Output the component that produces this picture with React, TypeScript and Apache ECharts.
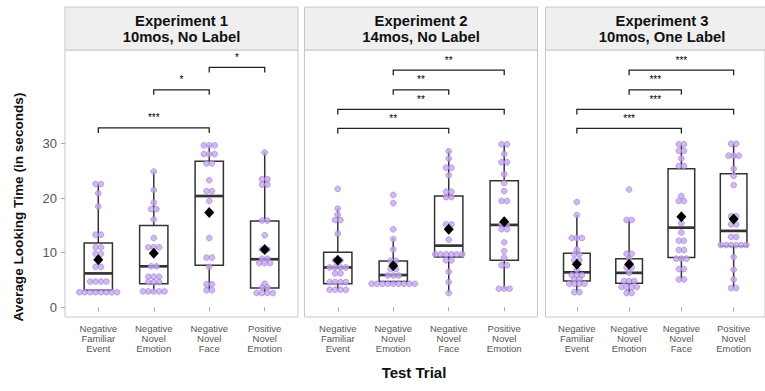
import React, { useEffect, useRef } from "react";
import * as echarts from "echarts";

const categories = [
  "Negative\nFamiliar\nEvent",
  "Negative\nNovel\nEmotion",
  "Negative\nNovel\nFace",
  "Positive\nNovel\nEmotion",
];
const panelTitles = [
  "Experiment 1\n10mos, No Label",
  "Experiment 2\n14mos, No Label",
  "Experiment 3\n10mos, One Label",
];
const yTicks = [0, 10, 20, 30];

// box stats per condition: [min, q1, median, q3, max]
const boxExp1 = [[2.7, 3.1, 6.2, 11.8, 22.6], [2.9, 4.3, 7.5, 15.0, 24.9], [3.0, 7.7, 20.4, 26.8, 29.7], [2.6, 3.5, 8.8, 15.8, 28.4]];
const boxExp2 = [[3.2, 4.3, 7.3, 10.1, 18.1], [4.3, 4.7, 5.9, 8.5, 12.7], [2.6, 9.2, 11.3, 20.4, 28.6], [3.4, 8.6, 15.1, 23.2, 29.9]];
const boxExp3 = [[2.75, 4.8, 6.4, 9.9, 16.9], [2.6, 4.4, 6.3, 8.9, 16.0], [5.1, 9.1, 14.6, 25.4, 29.9], [3.5, 11.2, 14.0, 24.5, 30.0]];

const meanExp1 = [8.7, 9.9, 17.4, 10.6];
const meanExp2 = [8.6, 7.6, 14.3, 15.7];
const meanExp3 = [7.9, 7.9, 16.6, 16.2];

// individual looking times
const exp1NegFamiliar = [22.6, 22.6, 20.9, 18.5, 13.3, 13.3, 11.0, 11.0, 9.8, 9.8, 7.4, 7.4, 4.7, 4.7, 4.7, 4.7, 2.75, 2.75, 2.75, 2.75, 2.75, 2.75, 2.75, 2.75];
const exp1NegEmotion = [24.9, 21.5, 19.2, 18.0, 18.0, 16.1, 12.7, 11.0, 11.0, 11.0, 7.5, 7.5, 5.6, 5.6, 5.6, 4.6, 4.6, 4.6, 2.9, 2.9, 2.9, 2.9, 2.9];
const exp1NegFace = [29.7, 29.7, 29.7, 28.1, 28.1, 28.1, 26.4, 26.4, 23.3, 21.3, 21.3, 19.5, 12.7, 9.1, 9.1, 7.4, 4.2, 4.2, 3.1, 3.1];
const exp1PosEmotion = [28.4, 23.5, 23.5, 22.5, 22.5, 15.9, 15.9, 13.2, 10.6, 10.6, 8.9, 8.9, 8.1, 8.1, 8.1, 4.3, 3.6, 3.6, 2.6, 2.6, 2.6, 2.6];

const exp2NegFamiliar = [21.7, 18.1, 17.0, 16.0, 16.0, 13.5, 8.6, 8.6, 7.3, 7.3, 7.3, 7.3, 6.2, 6.2, 4.6, 4.6, 4.6, 4.6, 3.2, 3.2, 3.2, 3.2];
const exp2NegEmotion = [20.6, 19.1, 14.3, 12.5, 10.6, 8.5, 8.5, 7.0, 7.0, 5.8, 5.8, 5.8, 4.3, 4.3, 4.3, 4.3, 4.3, 4.3, 4.3, 4.3, 4.3];
const exp2NegFace = [28.6, 27.3, 25.6, 25.6, 24.2, 21.2, 21.2, 20.2, 20.2, 15.2, 15.2, 12.4, 9.7, 9.7, 9.7, 9.7, 9.7, 9.7, 8.6, 8.6, 6.5, 4.6, 2.6];
const exp2PosEmotion = [29.9, 29.9, 28.1, 26.6, 26.6, 24.4, 22.8, 21.3, 19.5, 19.5, 15.2, 15.2, 14.3, 14.3, 11.9, 10.3, 9.1, 7.7, 7.7, 3.4, 3.4, 3.4];

const exp3NegFamiliar = [19.3, 16.9, 12.7, 12.7, 12.7, 10.6, 9.7, 9.7, 8.6, 8.6, 6.9, 5.9, 5.9, 5.9, 5.1, 5.1, 4.3, 4.3, 4.3, 4.3, 2.75, 2.75];
const exp3NegEmotion = [21.6, 16.0, 16.0, 9.8, 9.8, 8.9, 7.3, 7.3, 6.3, 4.8, 4.8, 4.8, 3.7, 3.7, 3.7, 3.7, 2.6, 2.6];
const exp3NegFace = [29.9, 29.9, 28.7, 28.7, 27.3, 25.9, 25.9, 20.4, 19.5, 19.5, 15.4, 13.7, 12.2, 12.2, 10.5, 10.5, 8.9, 8.9, 8.9, 7.0, 7.0, 5.1, 5.1];
const exp3PosEmotion = [30.0, 30.0, 27.8, 27.8, 27.8, 25.4, 24.1, 22.4, 16.7, 16.7, 15.2, 15.2, 12.9, 12.9, 11.4, 11.4, 11.4, 11.4, 11.4, 11.4, 9.2, 6.9, 5.1, 3.5, 3.5];

// significance brackets: [from category, to category, height]
const bracketsExp1 = [[3, 4, 44.0], [2, 3, 39.9], [1, 3, 32.9]];
const bracketLabelsExp1 = ["*", "*", "***"];
const bracketsExp2 = [[2, 4, 43.5], [2, 3, 39.9], [1, 4, 36.3], [1, 3, 32.8]];
const bracketLabelsExp2 = ["**", "**", "**", "**"];
const bracketsExp3 = [[2, 4, 43.5], [2, 3, 39.9], [1, 4, 36.3], [1, 3, 32.8]];
const bracketLabelsExp3 = ["***", "***", "***", "***"];

const panels = [
  { box: boxExp1, mean: meanExp1, points: [exp1NegFamiliar, exp1NegEmotion, exp1NegFace, exp1PosEmotion], brackets: bracketsExp1, labels: bracketLabelsExp1 },
  { box: boxExp2, mean: meanExp2, points: [exp2NegFamiliar, exp2NegEmotion, exp2NegFace, exp2PosEmotion], brackets: bracketsExp2, labels: bracketLabelsExp2 },
  { box: boxExp3, mean: meanExp3, points: [exp3NegFamiliar, exp3NegEmotion, exp3NegFace, exp3PosEmotion], brackets: bracketsExp3, labels: bracketLabelsExp3 },
];

const FONT = "'Liberation Sans', Arial, Helvetica, sans-serif";
const PANEL_LEFTS = [65, 304.5, 545.5];
const PANEL_W = 233;
const PANEL_TOP = 50;
const PANEL_H = 267;
const STRIP_TOP = 7;
const X_MIN = 0.4;
const X_MAX = 4.6;
const Y_MIN = -1.8;
const Y_MAX = 47.2;
const DOT_STEP = 5.4 / (PANEL_W / (X_MAX - X_MIN));

function stackDots(values: number[], cat: number): number[][] {
  const counts = new Map<number, number>();
  values.forEach((v) => counts.set(v, (counts.get(v) || 0) + 1));
  const out: number[][] = [];
  counts.forEach((n, v) => {
    for (let i = 0; i < n; i++) out.push([cat + (i - (n - 1) / 2) * DOT_STEP, v]);
  });
  return out;
}

export default function App() {
  const ref = useRef<HTMLDivElement>(null);
  useEffect(() => {
    if (!ref.current) return;
    const chart = echarts.init(ref.current, null, { renderer: "svg" });

    const grids: any[] = [];
    const xAxes: any[] = [];
    const yAxes: any[] = [];
    const series: any[] = [];
    const graphics: any[] = [];

    panels.forEach((p, pi) => {
      grids.push({
        left: PANEL_LEFTS[pi],
        top: PANEL_TOP,
        width: PANEL_W,
        height: PANEL_H,
        show: true,
        borderColor: "#C8C8C8",
        borderWidth: 1,
        backgroundColor: "#FFFFFF",
      });
      xAxes.push({
        type: "value",
        gridIndex: pi,
        min: X_MIN,
        max: X_MAX,
        splitLine: { show: false },
        axisLine: { show: false },
        axisTick: { show: true, customValues: [1, 2, 3, 4], length: 4, lineStyle: { color: "#AAAAAA" } },
        axisLabel: {
          customValues: [1, 2, 3, 4],
          formatter: (v: number) => categories[Math.round(v) - 1],
          fontFamily: FONT,
          fontSize: 9.5,
          lineHeight: 10.2,
          color: "#555555",
          margin: 6,
        },
      });
      yAxes.push({
        type: "value",
        gridIndex: pi,
        min: Y_MIN,
        max: Y_MAX,
        show: pi === 0,
        splitLine: { show: false },
        axisLine: { show: false },
        axisTick: { show: true, customValues: yTicks, length: 4, lineStyle: { color: "#AAAAAA" } },
        axisLabel: {
          customValues: yTicks,
          fontFamily: FONT,
          fontSize: 13,
          color: "#555555",
          margin: 8,
        },
      });

      const boxData = p.box.map((b, i) => [i + 1, ...b]);
      series.push({
        type: "custom",
        xAxisIndex: pi,
        yAxisIndex: pi,
        z: 2,
        silent: true,
        data: boxData,
        encode: { x: 0, y: [1, 2, 3, 4, 5] },
        renderItem: (params: any, api: any) => {
          const x = api.value(0);
          const lo = api.value(1), q1 = api.value(2), med = api.value(3), q3 = api.value(4), hi = api.value(5);
          const half = api.size([0.51, 0])[0] / 2;
          const pLo = api.coord([x, lo]);
          const pQ1 = api.coord([x, q1]);
          const pMed = api.coord([x, med]);
          const pQ3 = api.coord([x, q3]);
          const pHi = api.coord([x, hi]);
          const stroke = { stroke: "#333333", lineWidth: 1.5, fill: "none" };
          return {
            type: "group",
            children: [
              { type: "line", shape: { x1: pLo[0], y1: pLo[1], x2: pQ1[0], y2: pQ1[1] }, style: stroke },
              { type: "line", shape: { x1: pQ3[0], y1: pQ3[1], x2: pHi[0], y2: pHi[1] }, style: stroke },
              { type: "rect", shape: { x: pQ3[0] - half, y: pQ3[1], width: half * 2, height: pQ1[1] - pQ3[1] }, style: stroke },
              { type: "line", shape: { x1: pMed[0] - half, y1: pMed[1], x2: pMed[0] + half, y2: pMed[1] }, style: { stroke: "#333333", lineWidth: 2.7 } },
            ],
          };
        },
      });

      const dots: number[][] = [];
      p.points.forEach((vals, ci) => dots.push(...stackDots(vals, ci + 1)));
      series.push({
        type: "scatter",
        xAxisIndex: pi,
        yAxisIndex: pi,
        z: 3,
        silent: true,
        symbol: "circle",
        symbolSize: 5.8,
        itemStyle: { color: "rgba(196,166,236,0.8)", borderColor: "rgba(150,110,210,0.85)", borderWidth: 0.6, opacity: 1 },
        data: dots,
      });

      series.push({
        type: "scatter",
        xAxisIndex: pi,
        yAxisIndex: pi,
        z: 4,
        silent: true,
        symbol: "diamond",
        symbolSize: [10, 11],
        itemStyle: { color: "#000000", opacity: 1 },
        data: p.mean.map((m, i) => [i + 1, m]),
      });

      const labels = p.labels;
      series.push({
        type: "custom",
        xAxisIndex: pi,
        yAxisIndex: pi,
        z: 5,
        silent: true,
        data: p.brackets,
        encode: { x: [0, 1], y: 2 },
        renderItem: (params: any, api: any) => {
          const a = api.coord([api.value(0), api.value(2)]);
          const b = api.coord([api.value(1), api.value(2)]);
          const tick = 5;
          return {
            type: "group",
            children: [
              {
                type: "polyline",
                shape: { points: [[a[0], a[1] + tick], [a[0], a[1]], [b[0], b[1]], [b[0], b[1] + tick]] },
                style: { stroke: "#222222", lineWidth: 1.3, fill: "none" },
              },
              {
                type: "text",
                style: {
                  text: labels[params.dataIndex],
                  x: (a[0] + b[0]) / 2,
                  y: a[1] - 5,
                  textAlign: "center",
                  textVerticalAlign: "bottom",
                  fontFamily: FONT,
                  fontSize: 10,
                  fill: "#000000",
                },
              },
            ],
          };
        },
      });

      graphics.push({
        type: "rect",
        shape: { x: PANEL_LEFTS[pi], y: STRIP_TOP, width: PANEL_W, height: PANEL_TOP - STRIP_TOP },
        style: { fill: "#EFEFEF", stroke: "#C8C8C8", lineWidth: 1 },
        z: 1,
      });
      graphics.push({
        type: "text",
        x: PANEL_LEFTS[pi] + PANEL_W / 2,
        y: (STRIP_TOP + PANEL_TOP) / 2 + 0.5,
        style: {
          text: panelTitles[pi],
          textAlign: "center",
          textVerticalAlign: "middle",
          fontFamily: FONT,
          fontWeight: "bold",
          fontSize: 14.8,
          lineHeight: 16.8,
          fill: "#111111",
        },
        z: 2,
      });
    });

    graphics.push({
      type: "text",
      x: 18,
      y: 207,
      rotation: Math.PI / 2,
      style: {
        text: "Average Looking Time (in seconds)",
        textAlign: "center",
        textVerticalAlign: "middle",
        fontFamily: FONT,
        fontWeight: "bold",
        fontSize: 13.6,
        fill: "#111111",
      },
    });
    graphics.push({
      type: "text",
      x: 414,
      y: 372,
      style: {
        text: "Test Trial",
        textAlign: "center",
        textVerticalAlign: "middle",
        fontFamily: FONT,
        fontWeight: "bold",
        fontSize: 15,
        fill: "#111111",
      },
    });

    chart.setOption({
      animation: false,
      backgroundColor: "#FFFFFF",
      grid: grids,
      xAxis: xAxes,
      yAxis: yAxes,
      series,
      graphic: graphics,
    });
    return () => chart.dispose();
  }, []);

  return <div ref={ref} style={{ position: "absolute", left: 0, top: 0, width: 765, height: 391 }} />;
}
